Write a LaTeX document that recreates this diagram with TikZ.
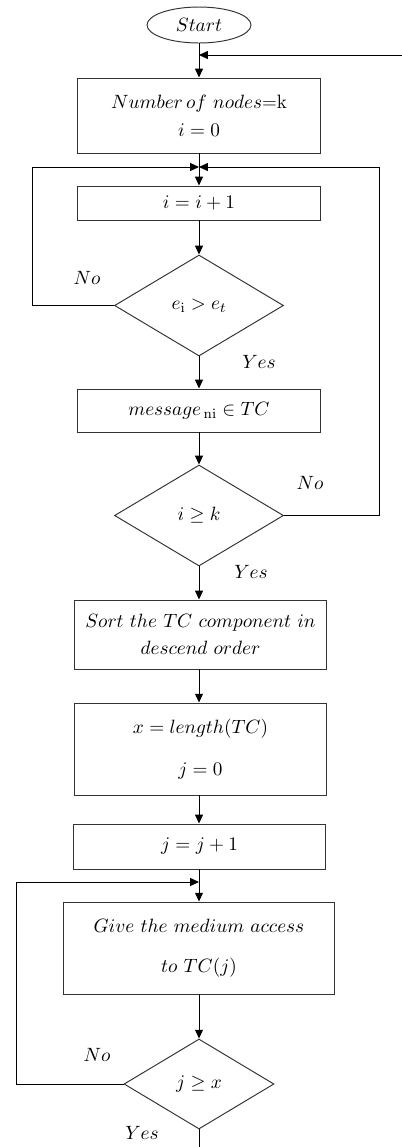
\documentclass[tikz,border=0pt]{standalone}
\usepackage{amsmath,amssymb}
\usepackage{tikz}
\usetikzlibrary{arrows.meta, shapes.geometric, positioning, calc}

\begin{document}
\begin{tikzpicture}[x=0.02cm, y=-0.02cm,
    font=\fontsize{11}{13}\selectfont,
    process/.style={draw=black!80, rectangle, inner sep=0pt, align=center, line width=0.55pt},
    decision/.style={draw=black!80, diamond, inner sep=0pt, line width=0.55pt},
    terminal/.style={draw=black!80, ellipse, inner sep=0pt, line width=0.55pt, minimum width=2.08cm, minimum height=0.72cm},
    flowline/.style={line width=0.55pt, -{Triangle[length=5pt,width=4.5pt]}},
    plainline/.style={line width=0.55pt},
    yesno/.style={inner sep=0pt}]

    \useasboundingbox (0,0) rectangle (402,1147);

    % Khối bắt đầu
    \node[terminal] (start) at (199,25) {$Start$};

    % Khởi tạo
    \node[process, minimum width=4.88cm, minimum height=1.5cm] (init) at (199,115.5)
        {$Number\,of\ nodes$=k\\[3pt] $i=0$};
    \node[process, minimum width=4.88cm, minimum height=0.68cm] (inci) at (199,203) {$i=i+1$};
    \node[decision, minimum width=3.38cm, minimum height=2.02cm] (testE) at (199,305.5) {$e_{\mathrm{i}}>e_t$};
    \node[process, minimum width=4.88cm, minimum height=0.86cm] (addTC) at (199,410.5) {$message_{\,\mathrm{ni}}\in TC$};
    \node[decision, minimum width=3.38cm, minimum height=2.02cm] (testK) at (199,515.5) {$i\geq k$};

    % Sắp xếp
    \node[process, minimum width=5.06cm, minimum height=1.38cm] (sortTC) at (200.5,634.5)
        {$Sort\ the\ TC\ component\ in$\\[2.5pt] $descend\ order$};
    \node[process, minimum width=5.06cm, minimum height=1.84cm] (lenTC) at (200.5,749)
        {$x=length(TC)$\\[11pt] $j=0$};
    \node[process, minimum width=5.06cm, minimum height=0.9cm] (incj) at (199.5,846.5) {$j=j+1$};
    \node[process, minimum width=5.44cm, minimum height=1.84cm] (access) at (199,948)
        {$Give\ the\ medium\ access$\\[10pt] $to\ TC(j)$};
    \node[decision, minimum width=3.0cm, minimum height=1.8cm] (testX) at (199,1084) {$j\geq x$};

    % Điểm nối
    \coordinate (inR) at (402,55);
    \coordinate (mTop) at (199,55);
    \coordinate (j1) at (199,167);
    \coordinate (j2) at (199,882);
    \coordinate (lp1) at (32,167);
    \coordinate (rp1) at (379,167);
    \coordinate (lp2) at (16,882);
    \coordinate (endB) at (199,1147);

    % Mũi tên
    \draw[flowline] (start) -- (init);
    \draw[flowline] (inR) -- (mTop);
    \draw[plainline] (init) -- (j1);
    \draw[flowline] (j1) -- (inci);
    \draw[flowline] (inci) -- (testE);
    \draw[flowline] (testE) -- (addTC);
    \draw[flowline] (addTC) -- (testK);
    \draw[flowline] (testK) -- (sortTC.north -| testK);
    \draw[flowline] (sortTC.south -| testK) -- (lenTC.north -| testK);
    \draw[flowline] (lenTC.south -| testK) -- (incj.north -| testK);
    \draw[plainline] (incj.south -| testK) -- (j2);
    \draw[flowline] (j2) -- (access);
    \draw[flowline] (access) -- (testX);
    \draw[plainline] (testX) -- (endB);

    % Vòng lặp
    \draw[flowline] (testE.west) -| (lp1) -- (j1);
    \draw[flowline] (testK.east) -| (rp1) -- (j1);
    \draw[flowline] (testX.west) -| (lp2) -- (j2);

    % Ghi chú Yes / No
    \node[yesno] (no1) at (87,278) {$No$};
    \node[yesno] (yes1) at (259,362) {$Yes$};
    \node[yesno] (no2) at (310,483) {$No$};
    \node[yesno] (yes2) at (251,572) {$Yes$};
    \node[yesno] (no3) at (97,1055) {$No$};
    \node[yesno] (yes3) at (142,1133) {$Yes$};

\end{tikzpicture}
\end{document}
